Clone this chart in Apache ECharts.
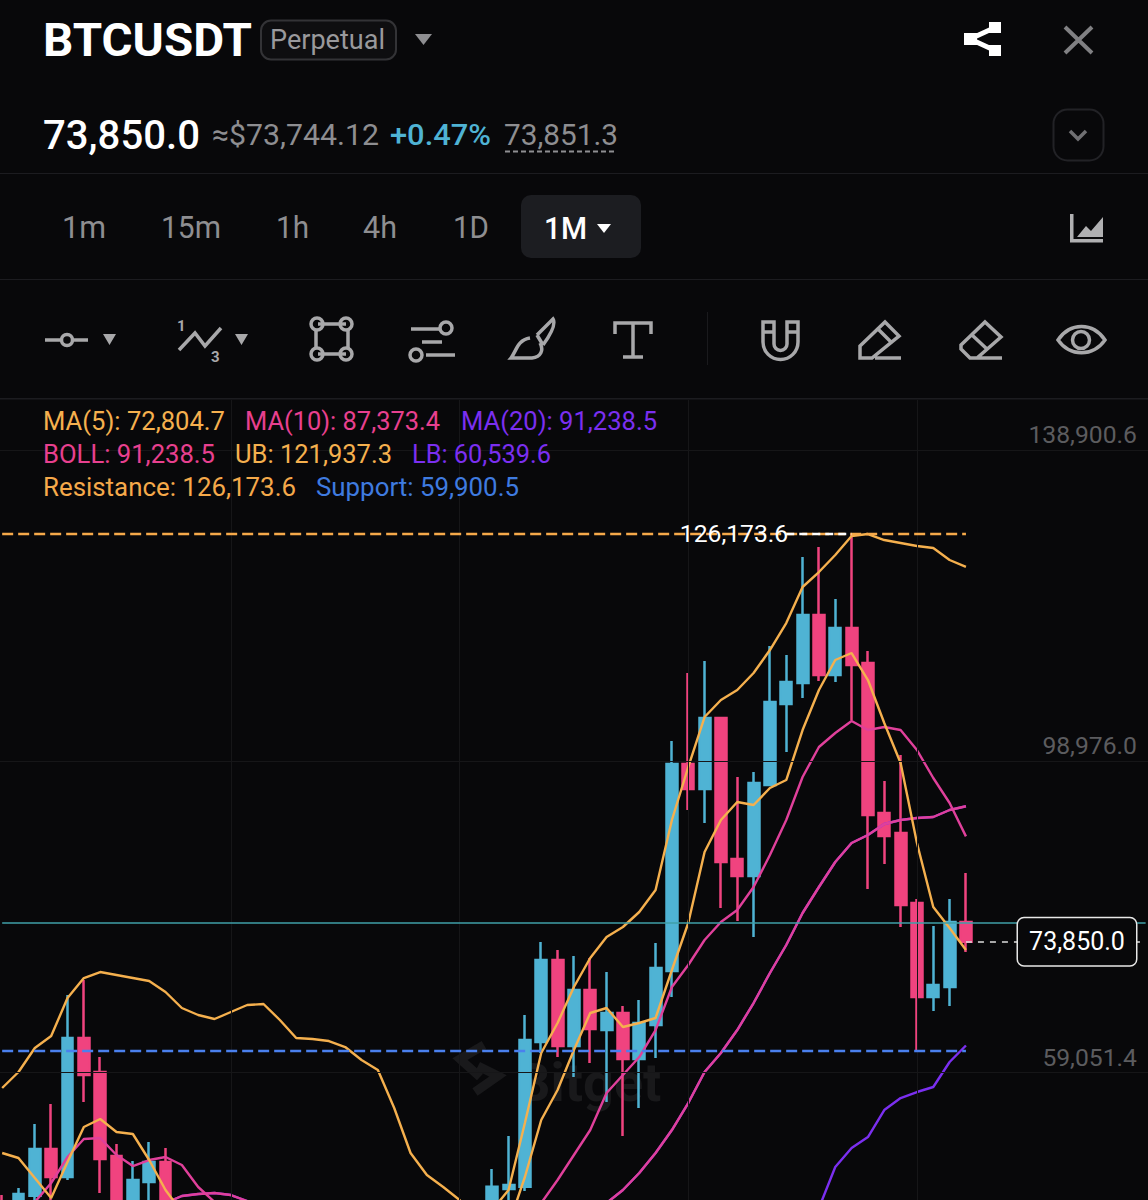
<!DOCTYPE html>
<html><head><meta charset="utf-8">
<style>
html,body{margin:0;padding:0;background:#08080a;overflow:hidden}
#chart{position:absolute;left:0;top:0;width:1148px;height:1200px}
#hdr{position:absolute;left:0;top:0;width:1148px;height:510px;pointer-events:none;font-family:Roboto,sans-serif}
</style>
<script src="https://cdn.jsdelivr.net/npm/echarts@6/dist/echarts.min.js"></script>
</head><body>
<div id="chart"></div>
<svg id="hdr" viewBox="0 0 1148 510" xmlns="http://www.w3.org/2000/svg">
  <g fill="#1c1c20"><rect x="0" y="173" width="1148" height="1"/><rect x="0" y="279" width="1148" height="1"/><rect x="0" y="398" width="1148" height="1.5"/></g>
  <text x="43" y="56" font-size="46" font-weight="700" fill="#fff" textLength="209" lengthAdjust="spacingAndGlyphs">BTCUSDT</text>
  <rect x="261" y="20.5" width="135" height="39" rx="10" fill="#0e0e10" stroke="#333336" stroke-width="2"/>
  <text x="270" y="49" font-size="27" fill="#99999c" textLength="115" lengthAdjust="spacingAndGlyphs">Perpetual</text>
  <path d="M415 34h17l-8.500 11z" fill="#8e8e91"/>
  <g fill="#fff" stroke="#fff"><rect x="964" y="33" width="13" height="12" stroke="none"/><rect x="989" y="22" width="12" height="11" stroke="none"/><rect x="989" y="45" width="12" height="11" stroke="none"/><path d="M970 39L995 27.500M970 39L995 50.500" fill="none" stroke-width="5"/></g>
  <path d="M1065 27L1092 53M1092 27L1065 53" stroke="#808083" stroke-width="4" fill="none"/>
  <text x="43" y="149" font-size="40" font-weight="500" fill="#fff" textLength="157" lengthAdjust="spacingAndGlyphs">73,850.0</text>
  <text x="212" y="145" font-size="30" fill="#8e8e91" textLength="167" lengthAdjust="spacingAndGlyphs">≈$73,744.12</text>
  <text x="390" y="145" font-size="30" font-weight="500" fill="#4fb3d4" textLength="101" lengthAdjust="spacingAndGlyphs">+0.47%</text>
  <text x="504" y="145" font-size="30" fill="#8e8e91" textLength="114" lengthAdjust="spacingAndGlyphs">73,851.3</text>
  <path d="M505 151.500H617" stroke="#8e8e91" stroke-width="2" stroke-dasharray="5 3"/>
  <rect x="1053.500" y="109.500" width="50" height="51" rx="14" fill="none" stroke="#222226" stroke-width="2"/>
  <path d="M1070 131l8 8 8-8" fill="none" stroke="#707073" stroke-width="3.500"/>
  <g font-size="31" fill="#8e8e91">
    <text x="62" y="238" textLength="44" lengthAdjust="spacingAndGlyphs">1m</text>
    <text x="161" y="238" textLength="60" lengthAdjust="spacingAndGlyphs">15m</text>
    <text x="276" y="238" textLength="33" lengthAdjust="spacingAndGlyphs">1h</text>
    <text x="363" y="238" textLength="34" lengthAdjust="spacingAndGlyphs">4h</text>
    <text x="453" y="238" textLength="36" lengthAdjust="spacingAndGlyphs">1D</text>
  </g>
  <rect x="521" y="195" width="120" height="63" rx="10" fill="#1c1d21"/>
  <text x="544" y="239" font-size="32" font-weight="500" fill="#fff" textLength="43" lengthAdjust="spacingAndGlyphs">1M</text>
  <path d="M597 224h14l-7 9z" fill="#fff"/>
  <g fill="#b0b0b2"><path d="M1070 214h3.500v25h29.500v3.500h-33z"/><path d="M1077 237l9-11 5 5 12-14v20z"/></g>
  <g fill="none" stroke="#a8a8aa" stroke-width="3.500">
    <path d="M45 340H61M73 340H88"/><circle cx="67" cy="340" r="5.500"/>
    <path d="M179 350L195 333L205 346L221 328"/>
    <path d="M318 324H346M318 354H346M316 330V348M348 330V348"/>
    <circle cx="317" cy="324" r="6"/><circle cx="346" cy="324" r="6"/><circle cx="317" cy="354" r="6"/><circle cx="346" cy="354" r="6"/>
    <path d="M411 329H440M422 342H442M426 355H455"/><circle cx="446" cy="328" r="6"/><circle cx="416" cy="355" r="6"/>
    <path d="M537 335L553 319C556 324 551 334 543 345M537 335L543 345M530 338C517 340 516 352 511 358H532C541 357 544 350 540 343"/>
    <path d="M615 334V323H651V334M633 323V357M623 357H643"/>
    <path d="M763 322H774V344A6 6 0 0 0 787 344V322H798V342A17 17 0 0 1 763 342ZM763 332H774M787 332H798"/>
    <path d="M885 322L899 336L872 358H860V346ZM878 329L892 343M875 358H901"/>
    <path d="M985 322L1001 337L977 358H970L961 349V345ZM972 335L988 350M977 358H1002"/>
    <path d="M1058 340C1070 322 1093 322 1105 340C1093 357 1070 357 1058 340Z"/><circle cx="1081" cy="340" r="8.500"/>
  </g>
  <g fill="#a8a8aa"><path d="M103 334h13l-6.500 11zM235 334h13l-6.500 11z"/></g>
  <g font-size="15" font-weight="700" fill="#a8a8aa"><text x="177" y="331">1</text><text x="211" y="362">3</text></g>
  <rect x="707" y="312" width="1" height="53" fill="#1a1a1d"/>
  <g font-size="26">
    <text x="43" y="430" fill="#f5b04e" textLength="182" lengthAdjust="spacingAndGlyphs">MA(5): 72,804.7</text>
    <text x="245" y="430" fill="#e8408f" textLength="195" lengthAdjust="spacingAndGlyphs">MA(10): 87,373.4</text>
    <text x="461" y="430" fill="#7b2ff0" textLength="196" lengthAdjust="spacingAndGlyphs">MA(20): 91,238.5</text>
    <text x="43" y="463" fill="#e8408f" textLength="172" lengthAdjust="spacingAndGlyphs">BOLL: 91,238.5</text>
    <text x="235" y="463" fill="#f5b04e" textLength="157" lengthAdjust="spacingAndGlyphs">UB: 121,937.3</text>
    <text x="412" y="463" fill="#7b2ff0" textLength="139" lengthAdjust="spacingAndGlyphs">LB: 60,539.6</text>
    <text x="43" y="496" fill="#f5a94a" textLength="253" lengthAdjust="spacingAndGlyphs">Resistance: 126,173.6</text>
    <text x="316" y="496" fill="#3f7be0" textLength="203" lengthAdjust="spacingAndGlyphs">Support: 59,900.5</text>
  </g>
</svg>
<script>
// Candles: [open, close, low, high]; "-" = month below the visible window
const candles = [
 [40400,38000,36000,41361],[39500,41489,38000,42259],[41271,47262,39500,50470],[47262,43670,40600,53036],
 [43670,61504,43285,67021],[61504,56757,53292,68945],[57142,45980,41617,59066],[46364,40000,38500,47904],
 [38500,43285,37000,45723],[43029,45595,39000,48161],[45595,39000,37000,47391],
 '-','-','-','-','-','-','-','-','-','-','-','-','-','-','-','-','-','-','-',
 [39000,42426,37500,44697],[42131,42644,39500,48930],[42426,61247,41874,64455],[60991,71511,59579,73821],
 [71511,60477,59066,72794],[60477,67662,56500,72024],[67662,62658,58296,71768],[62530,64711,53292,69972],
 [64711,58809,48930,65609],[58809,63428,52523,66379],[63172,70485,58938,73692],[70100,96658,66764,99608],
 [96658,93450,90756,108333],[93450,102560,89088,109873],[102560,84085,78183,102688],[84469,82288,76515,94990],
 [82288,94220,74462,95632],[93964,104613,93964,111797],[104356,107179,98198,110643],[107051,115775,105126,123216],
 [115775,108077,107307,124499],[108077,114107,107179,117827],[114107,109360,102303,126174],[109617,90115,80620,111156],
 [90372,87420,83828,94477],[87805,78568,75745,97813],[78824,66764,59900,79337],[66764,68304,64968,75873],
 [68047,76387,65609,79337],[76387,73850,72538,82673]
];
const n = null;
const ub = [55089,57142,60221,61760,66636,69202,69972,69587,69202,68817,67406,65353,64455,63941,64840,65738,65866,63813,61504,61375,61119,60349,58681,57398,52523,46749,43927,42387,40719,37511,39436,42002,50598,59579,63428,68047,71768,74462,75745,77670,80492,89473,96273,102688,104869,106152,108333,111284,114748,119367,121291,123473,125910,126167,125397,125012,124627,124371,122831,121937.3];
const ma5 = [46749,46108,43542,40976,45594,50085,51111,49444,49187,45851,42002,39180,37000,n,n,n,n,n,n,n,n,n,n,n,n,n,n,n,n,n,n,37511,43670,50983,54832,59964,64711,65353,62915,63428,64070,70228,76258,85368,89473,91783,91398,93579,94605,101020,106152,110001,110899,107435,101918,96786,86522,78311,75617,72804.7];
const ma10 = [n,n,40463,42900,46236,48545,48674,46493,45081,45851,46236,45210,42387,40463,38500,n,n,n,n,n,n,n,n,n,n,n,n,n,n,n,n,n,38000,40334,43285,46493,49700,54447,56757,59066,62530,68047,70870,74077,76387,77926,80877,84983,89473,94990,98840,100635,102175,101020,101405,101020,98454,94862,91654,87373.4];
const boll = [n,n,n,n,n,n,n,n,n,39000,40334,41232,41489,41617,41361,40591,39500,n,n,n,n,n,n,n,n,n,n,n,n,n,n,n,n,n,n,n,38500,40334,42002,44183,46749,49700,53164,57142,59579,62530,65994,69843,73436,77541,80877,84085,86522,87549,88960,89473,89730,89858,90756,91238.5];
const ma20 = boll;
const lb = [n,n,n,n,n,n,n,n,n,n,n,n,n,n,n,n,n,n,n,n,n,n,n,n,n,n,n,n,n,n,n,n,n,n,n,n,n,n,n,n,n,n,n,n,n,n,n,n,n,n,39693,44953,47391,48802,52266,53806,54576,55217,58425,60539.6];
const axisTicks = [59051.4, 98976.0, 138900.6];
const gridRows = [57051.4, 96976.0, 136900.6];
const gridCols = [14, 28, 42, 56];
const resistance = 126173.6, support = 59900.5, lastPrice = 73850.0, markPrice = 76258;
const categories = Array.from({length:71},(_,i)=>String(i+1));

const UP='#4fb3d4', DOWN='#f0437f', ORANGE='#f5b04e', PINK='#e0409b', PURPLE='#7b2ff0';
const fmt = v => v.toLocaleString('en-US',{minimumFractionDigits:1,maximumFractionDigits:1});
const blank = categories.map(()=>null);
const line = (name,data,color,z) => ({name,type:'line',data,z,symbol:'none',showSymbol:false,connectNulls:false,silent:true,
  lineStyle:{color,width:2.4},itemStyle:{color}});

const chart = echarts.init(document.getElementById('chart'),null,{renderer:'svg',width:1148,height:1200});
chart.setOption({
  animation:false, backgroundColor:'#08080a',
  grid:{left:-6,top:400,width:1159.8,height:800,containLabel:false,outerBoundsMode:'none'},
  xAxis:{type:'category',data:categories,boundaryGap:true,axisLine:{show:false},axisTick:{show:false},axisLabel:{show:false},splitLine:{show:false}},
  yAxis:{type:'value',position:'right',min:40720,max:143360,scale:true,axisLine:{show:false},axisTick:{show:false},splitLine:{show:false},
    axisLabel:{inside:true,margin:16.8,customValues:axisTicks,color:'#5c5c5f',fontFamily:'Roboto',fontSize:24.7,formatter:fmt}},
  graphic:[
    {type:'text',z:0,style:{x:516,y:1055,text:'Bitget',fontFamily:'Roboto',fontWeight:700,fontSize:54,fill:'#19191b'}},
    {type:'polyline',z:0,shape:{points:[[484,1045],[460,1059],[480,1077]]},style:{stroke:'#19191b',lineWidth:9,fill:null}},
    {type:'polyline',z:0,shape:{points:[[478,1066],[498,1076],[475,1092]]},style:{stroke:'#19191b',lineWidth:9,fill:null}}
  ],
  series:[
    {name:'Grid',type:'line',data:blank,z:1,symbol:'none',silent:true,
      markLine:{silent:true,symbol:'none',label:{show:false},animation:false,lineStyle:{color:'#161618',width:1,type:'solid'},
        data:[...gridRows.map(v=>({yAxis:v})),...gridCols.map(i=>({xAxis:i}))]}},
    {name:'Price',type:'candlestick',data:candles,z:2,barWidth:11.4,silent:true,
      itemStyle:{color:UP,color0:DOWN,borderColor:UP,borderColor0:DOWN,borderWidth:2.5}},
    line('MA(20)',ma20,PURPLE,3),
    line('BOLL',boll,PINK,3),
    line('MA(10)',ma10,PINK,3),
    line('MA(5)',ma5,ORANGE,3),
    line('UB',ub,ORANGE,3),
    line('LB',lb,PURPLE,3),
    {name:'Levels',type:'line',data:blank,z:4,symbol:'none',silent:true,
      markLine:{silent:true,symbol:'none',animation:false,label:{show:false},
        data:[
          [{coord:[0,markPrice],lineStyle:{color:'#3f9fa8',width:1.500,type:'solid'}},{coord:[70,markPrice]}],
          [{coord:[0,resistance],lineStyle:{color:'#f5a94a',width:2.4,type:[11,5]}},{coord:[59,resistance]}],
          [{coord:[0,support],lineStyle:{color:'#4a80ee',width:2.4,type:[11,5]}},{coord:[59,support]}],
          [{coord:[48,resistance],lineStyle:{color:'#ffffff',width:2.4,type:[8,5]},
            label:{show:true,position:'start',distance:-2,formatter:fmt(resistance),color:'#fff',fontFamily:'Roboto',fontSize:24.7}},{coord:[52,resistance]}],
          [{coord:[59,lastPrice],lineStyle:{color:'#dddddd',width:1.500,type:[6,6]}},{coord:[70,lastPrice]}]
        ]},
      markPoint:{silent:true,animation:false,symbol:'rect',symbolSize:1,itemStyle:{color:'transparent'},
        data:[{coord:[66,lastPrice],symbolOffset:[-3.3,0],value:lastPrice,
          label:{show:true,position:'inside',formatter:fmt(lastPrice),color:'#fff',fontFamily:'Roboto',fontSize:25,
            backgroundColor:'#08080a',borderColor:'#e8e8e8',borderWidth:1.500,borderRadius:6,width:118,height:47,lineHeight:47,align:'center',verticalAlign:'middle'}}]}}
  ]
});
</script>
</body></html>
